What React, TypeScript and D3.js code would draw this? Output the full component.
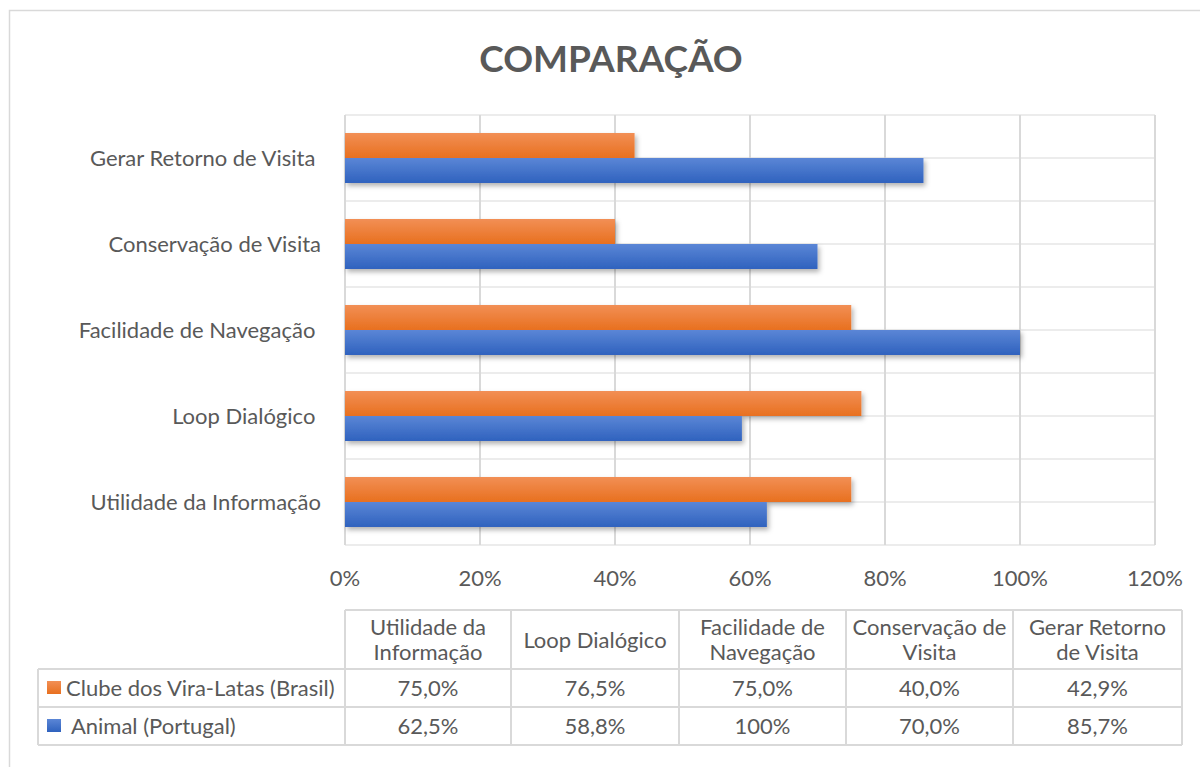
import * as d3 from 'd3'
import { useEffect, useRef } from 'react'

// categories listed bottom -> top as in the chart
const categories = [
  'Utilidade da Informação',
  'Loop Dialógico ',
  'Facilidade de Navegação ',
  'Conservação de Visita',
  'Gerar Retorno de Visita ',
]
const headerLines = [
  ['Utilidade da', 'Informação'],
  ['Loop Dialógico'],
  ['Facilidade de', 'Navegação'],
  ['Conservação de', 'Visita'],
  ['Gerar Retorno', 'de Visita'],
]
const seriesNames = ['Clube dos Vira-Latas (Brasil)', ' Animal (Portugal)']
const brasil = [0.75, 0.765, 0.75, 0.4, 0.429]
const portugal = [0.625, 0.588, 1.0, 0.7, 0.857]
const brasilLabels = ['75,0%', '76,5%', '75,0%', '40,0%', '42,9%']
const portugalLabels = ['62,5%', '58,8%', '100%', '70,0%', '85,7%']
const xTicks = [0, 0.2, 0.4, 0.6, 0.8, 1.0, 1.2]

const FONT = 'Lato, "Open Sans", sans-serif'
const TEXT = '#595959'
const GRID = '#d9d9d9'
const FS = 22

export default function App() {
  const ref = useRef<HTMLDivElement>(null)

  useEffect(() => {
    if (!ref.current) return
    ref.current.innerHTML = ''
    const width = 1200
    const height = 767

    const svg = d3
      .select(ref.current)
      .append('svg')
      .attr('width', width)
      .attr('height', height)
      .style('display', 'block')
      .style('font-family', FONT)

    svg.append('rect').attr('width', width).attr('height', height).attr('fill', '#fff')

    const defs = svg.append('defs')
    const grad = (id: string, top: string, bottom: string) => {
      const g = defs.append('linearGradient').attr('id', id).attr('x1', 0).attr('x2', 0).attr('y1', 0).attr('y2', 1)
      g.append('stop').attr('offset', '0%').attr('stop-color', top)
      g.append('stop').attr('offset', '100%').attr('stop-color', bottom)
    }
    grad('gOrange', '#f28f55', '#e8701f')
    grad('gBlue', '#5b86d6', '#2f62be')
    defs
      .append('filter')
      .attr('id', 'shadow')
      .attr('x', '-5%')
      .attr('y', '-30%')
      .attr('width', '115%')
      .attr('height', '180%')
      .append('feDropShadow')
      .attr('dx', 2)
      .attr('dy', 3)
      .attr('stdDeviation', 2.5)
      .attr('flood-color', '#000')
      .attr('flood-opacity', 0.3)

    // outer chart border
    svg
      .append('rect')
      .attr('x', 9.5)
      .attr('y', 10.5)
      .attr('width', 1250)
      .attr('height', 800)
      .attr('fill', 'none')
      .attr('stroke', GRID)
      .attr('stroke-width', 1.5)

    svg
      .append('text')
      .attr('x', 611)
      .attr('y', 72)
      .attr('text-anchor', 'middle')
      .attr('font-size', 37)
      .attr('font-weight', 'bold')
      .attr('fill', TEXT)
      .text('COMPARAÇÃO')

    const x = d3.scaleLinear().domain([0, 1.2]).range([345, 1155])
    const y = d3.scaleBand().domain(categories.slice().reverse()).range([115, 545])
    const inner = d3.scaleBand().domain(['b', 'p']).range([0, 50])
    const off = (y.bandwidth() - 50) / 2

    // horizontal gridlines at band edges and centres
    const hLines = d3.range(0, categories.length * 2 + 1).map(i => 115 + (i * y.bandwidth()) / 2)
    svg
      .append('g')
      .selectAll('line')
      .data(hLines)
      .join('line')
      .attr('x1', 345)
      .attr('x2', 1155)
      .attr('y1', d => d)
      .attr('y2', d => d)
      .attr('stroke', '#ececec')
      .attr('stroke-width', 2)

    svg
      .append('g')
      .selectAll('line')
      .data(xTicks)
      .join('line')
      .attr('x1', d => x(d))
      .attr('x2', d => x(d))
      .attr('y1', 115)
      .attr('y2', 545)
      .attr('stroke', GRID)
      .attr('stroke-width', 2)

    svg
      .append('g')
      .selectAll('text')
      .data(xTicks)
      .join('text')
      .attr('x', d => x(d))
      .attr('y', 586)
      .attr('text-anchor', 'middle')
      .attr('font-size', FS)
      .attr('fill', TEXT)
      .text(d => d3.format('.0%')(d))

    svg
      .append('g')
      .selectAll('text')
      .data(categories)
      .join('text')
      .attr('x', 321)
      .attr('y', d => (y(d) ?? 0) + y.bandwidth() / 2 + 8)
      .attr('text-anchor', 'end')
      .attr('font-size', FS)
      .attr('fill', TEXT)
      .style('white-space', 'pre')
      .text(d => d)

    const bars = svg.append('g').attr('filter', 'url(#shadow)')
    const rows = categories.map((c, i) => ({ c, b: brasil[i], p: portugal[i] }))
    bars
      .selectAll('rect.p')
      .data(rows)
      .join('rect')
      .attr('class', 'p')
      .attr('x', x(0))
      .attr('y', d => (y(d.c) ?? 0) + off + (inner('p') ?? 0))
      .attr('width', d => x(d.p) - x(0))
      .attr('height', inner.bandwidth())
      .attr('fill', 'url(#gBlue)')
    bars
      .selectAll('rect.b')
      .data(rows)
      .join('rect')
      .attr('class', 'b')
      .attr('x', x(0))
      .attr('y', d => (y(d.c) ?? 0) + off + (inner('b') ?? 0))
      .attr('width', d => x(d.b) - x(0))
      .attr('height', inner.bandwidth())
      .attr('fill', 'url(#gOrange)')

    // data table
    const colX = [38, 345, 511, 679, 846, 1013, 1182]
    const rowY = [610, 669, 707, 745]
    const table = svg.append('g')
    const tl = (x1: number, y1: number, x2: number, y2: number) =>
      table
        .append('line')
        .attr('x1', x1)
        .attr('y1', y1)
        .attr('x2', x2)
        .attr('y2', y2)
        .attr('stroke', GRID)
        .attr('stroke-width', 2)
    tl(345, rowY[0], colX[6], rowY[0])
    tl(38, rowY[1], colX[6], rowY[1])
    tl(38, rowY[2], colX[6], rowY[2])
    tl(38, rowY[3], colX[6], rowY[3])
    tl(38, rowY[1], 38, rowY[3])
    colX.slice(1).forEach(cx => tl(cx, rowY[0], cx, rowY[3]))

    headerLines.forEach((lines, i) => {
      const cx = (colX[i + 1] + colX[i + 2]) / 2
      const t = table
        .append('text')
        .attr('text-anchor', 'middle')
        .attr('font-size', FS)
        .attr('fill', TEXT)
      const cy = (rowY[0] + rowY[1]) / 2
      const start = cy + 8 - ((lines.length - 1) * 25) / 2
      lines.forEach((ln, j) => {
        t.append('tspan').attr('x', cx).attr('y', start + j * 25).text(ln)
      })
    })

    const valueRows = [brasilLabels, portugalLabels]
    const swatches = ['url(#gOrange)', 'url(#gBlue)']
    valueRows.forEach((vals, r) => {
      const cy = (rowY[r + 1] + rowY[r + 2]) / 2
      table
        .append('rect')
        .attr('x', 47)
        .attr('y', cy - 7)
        .attr('width', 14)
        .attr('height', 13)
        .attr('fill', swatches[r])
      table
        .append('text')
        .attr('x', 66)
        .attr('y', cy + 8)
        .attr('font-size', FS)
        .attr('fill', TEXT)
        .style('white-space', 'pre')
        .text(seriesNames[r])
      vals.forEach((v, i) => {
        table
          .append('text')
          .attr('x', (colX[i + 1] + colX[i + 2]) / 2)
          .attr('y', cy + 8)
          .attr('text-anchor', 'middle')
          .attr('font-size', FS)
          .attr('fill', TEXT)
          .text(v)
      })
    })
  }, [])

  return <div ref={ref} style={{ position: 'absolute', left: 0, top: 0 }} />
}
